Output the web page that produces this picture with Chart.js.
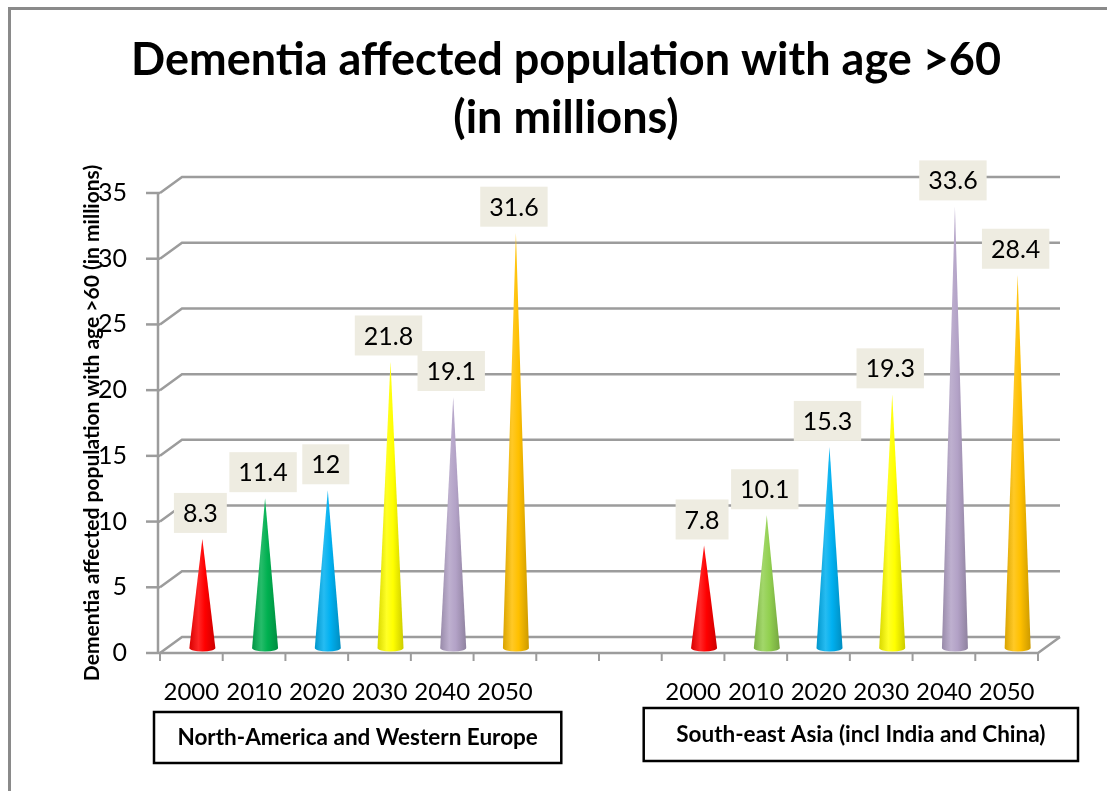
<!DOCTYPE html>
<html>
<head>
<meta charset="utf-8">
<title>Dementia affected population with age >60</title>
<script src="https://cdn.jsdelivr.net/npm/chart.js@4.4.1/dist/chart.umd.min.js"></script>
<style>
  html, body { margin: 0; padding: 0; background: #fff; }
  #wrap { position: relative; width: 1107px; height: 791px; }
</style>
</head>
<body>
<div id="wrap"><canvas id="dementiaChart"></canvas></div>
<script>
// data
const years = ['2000', '2010', '2020', '2030', '2040', '2050'];
const regions = ['North-America and Western Europe', 'South-east Asia (incl India and China)'];
const northAmericaEurope = [8.3, 11.4, 12, 21.8, 19.1, 31.6];
const southEastAsia = [7.8, 10.1, 15.3, 19.3, 33.6, 28.4];
const colorsNA = ['#ff0000', '#00b050', '#00b0f0', '#ffff00', '#b3a2c7', '#ffc000'];
const colorsSEA = ['#ff0000', '#92d050', '#00b0f0', '#ffff00', '#b3a2c7', '#ffc000'];
const yMin = 0, yMax = 35, yStep = 5;

// two empty slots separate the regions on the category axis
const labels = [...years, '', '', ...years];
const values = [...northAmericaEurope, null, null, ...southEastAsia];
const coneColors = [...colorsNA, null, null, ...colorsSEA];

const FONT = 'Lato';
const DEPTH_X = 22, DEPTH_Y = -16;   // back wall offset
const CONE_DX = 11, CONE_DY = -5;    // cones stand mid-floor

function mix(hex, target, t) {
    const a = parseInt(hex.slice(1), 16), b = parseInt(target.slice(1), 16);
    const ch = (v, s) => (v >> s) & 255;
    const r = Math.round(ch(a, 16) + (ch(b, 16) - ch(a, 16)) * t);
    const g = Math.round(ch(a, 8) + (ch(b, 8) - ch(a, 8)) * t);
    const bl = Math.round(ch(a, 0) + (ch(b, 0) - ch(a, 0)) * t);
    return 'rgb(' + r + ',' + g + ',' + bl + ')';
}

const frameAndTitle = {
    id: 'frameAndTitle',
    beforeDraw(chart) {
        const ctx = chart.ctx;
        ctx.save();
        ctx.strokeStyle = '#8a8a8a';
        ctx.lineWidth = 3;
        ctx.strokeRect(9.5, 8.5, 1200, 1000);
        ctx.fillStyle = '#000';
        ctx.font = 'bold 45px ' + FONT;
        ctx.textAlign = 'center';
        ctx.textBaseline = 'alphabetic';
        ctx.fillText('Dementia affected population with age >60', 566, 75);
        ctx.fillText('(in millions)', 566, 133);
        ctx.restore();
    }
};

const wall3d = {
    id: 'wall3d',
    beforeDatasetsDraw(chart) {
        const {ctx, chartArea: a, scales: {y}} = chart;
        ctx.save();
        ctx.strokeStyle = '#9c9c9c';
        ctx.lineWidth = 2.5;
        y.ticks.forEach(t => {
            const py = y.getPixelForValue(t.value);
            ctx.beginPath();
            ctx.moveTo(a.left, py);
            ctx.lineTo(a.left + DEPTH_X, py + DEPTH_Y);
            ctx.lineTo(a.right + DEPTH_X, py + DEPTH_Y);
            ctx.stroke();
            ctx.beginPath();
            ctx.moveTo(a.left - 14, py);
            ctx.lineTo(a.left, py);
            ctx.stroke();
        });
        // front axis, floor edge
        ctx.beginPath();
        ctx.moveTo(a.left - 2, a.top);
        ctx.lineTo(a.left - 2, a.bottom);
        ctx.moveTo(a.left, a.bottom);
        ctx.lineTo(a.right, a.bottom);
        ctx.lineTo(a.right + DEPTH_X, a.bottom + DEPTH_Y);
        ctx.stroke();
        // category tick marks
        const n = labels.length;
        ctx.lineWidth = 2;
        for (let i = 0; i <= n; i++) {
            const px = a.left + (a.right - a.left) * i / n;
            ctx.beginPath();
            ctx.moveTo(px, a.bottom);
            ctx.lineTo(px, a.bottom + 8);
            ctx.stroke();
        }
        ctx.restore();
    }
};

const cones = {
    id: 'cones',
    afterDatasetsDraw(chart) {
        const ctx = chart.ctx;
        const meta = chart.getDatasetMeta(0);
        ctx.save();
        meta.data.forEach((bar, i) => {
            if (values[i] == null) return;
            const col = coneColors[i];
            const bx = bar.x + CONE_DX, by = bar.base + CONE_DY, ty = bar.y + CONE_DY;
            const hw = 13, ry = 3.5;
            const grad = ctx.createLinearGradient(bx - hw, 0, bx + hw, 0);
            grad.addColorStop(0, mix(col, '#000000', 0.15));
            grad.addColorStop(0.35, mix(col, '#ffffff', 0.15));
            grad.addColorStop(0.6, col);
            grad.addColorStop(1, mix(col, '#000000', 0.2));
            ctx.fillStyle = grad;
            ctx.beginPath();
            ctx.moveTo(bx, ty);
            ctx.lineTo(bx - hw, by);
            ctx.ellipse(bx, by, hw, ry, 0, Math.PI, 0, true);
            ctx.closePath();
            ctx.fill();
        });
        ctx.restore();
    },
    afterDraw(chart) {
        const ctx = chart.ctx;
        const meta = chart.getDatasetMeta(0);
        ctx.save();
        ctx.font = '25px ' + FONT;
        ctx.textAlign = 'center';
        ctx.textBaseline = 'middle';
        meta.data.forEach((bar, i) => {
            if (values[i] == null) return;
            const txt = String(values[i]);
            const w = ctx.measureText(txt).width + 18;
            const h = 40;
            const cx = bar.x + CONE_DX - 2;
            const bottom = bar.y + CONE_DY - 6;
            ctx.fillStyle = '#eeece1';
            ctx.fillRect(cx - w / 2, bottom - h, w, h);
            ctx.fillStyle = '#000';
            ctx.fillText(txt, cx, bottom - h / 2 + 1);
        });
        ctx.restore();
    }
};

const regionBoxes = {
    id: 'regionBoxes',
    afterDraw(chart) {
        const {ctx, scales: {x}} = chart;
        const half = (x.getPixelForValue(1) - x.getPixelForValue(0)) / 2;
        const boxes = [
            { text: regions[0], l: x.getPixelForValue(0) - half - 6, r: x.getPixelForValue(5) + half + 25, t: 712, b: 763 },
            { text: regions[1], l: x.getPixelForValue(8) - half - 18, r: x.getPixelForValue(13) + half + 40, t: 708, b: 761 }
        ];
        ctx.save();
        ctx.strokeStyle = '#000';
        ctx.lineWidth = 2.5;
        ctx.fillStyle = '#000';
        ctx.font = 'bold 22.5px ' + FONT;
        ctx.textAlign = 'center';
        ctx.textBaseline = 'middle';
        boxes.forEach(bx => {
            ctx.strokeRect(bx.l, bx.t, bx.r - bx.l, bx.b - bx.t);
            ctx.fillText(bx.text, (bx.l + bx.r) / 2, (bx.t + bx.b) / 2);
        });
        ctx.restore();
    }
};

new Chart(document.getElementById('dementiaChart'), {
    type: 'bar',
    data: {
        labels: labels,
        datasets: [{
            label: 'Dementia affected population with age >60 (in millions)',
            data: values,
            backgroundColor: 'rgba(0,0,0,0)',
            borderWidth: 0
        }]
    },
    options: {
        responsive: true,
        maintainAspectRatio: false,
        animation: false,
        layout: { padding: { left: 76, right: 69, top: 193, bottom: 0 } },
        plugins: {
            legend: { display: false },
            tooltip: { enabled: false },
            title: { display: false }
        },
        scales: {
            x: {
                grid: { display: false },
                border: { display: false },
                ticks: { color: '#000', font: { family: FONT, size: 24 }, padding: 17, autoSkip: false, maxRotation: 0 },
                afterFit(scale) { scale.height = 138; }
            },
            y: {
                min: yMin,
                max: yMax,
                grid: { display: false },
                border: { display: false },
                ticks: { stepSize: yStep, color: '#000', font: { family: FONT, size: 25 }, padding: 25 },
                title: {
                    display: true,
                    text: 'Dementia affected population with age >60 (in millions)',
                    color: '#000',
                    font: { family: FONT, size: 21, weight: 'bold' },
                    padding: { top: 4, bottom: 4 }
                },
                afterFit(scale) { scale.width = 84; }
            }
        }
    },
    plugins: [frameAndTitle, wall3d, cones, regionBoxes]
});
</script>
</body>
</html>
